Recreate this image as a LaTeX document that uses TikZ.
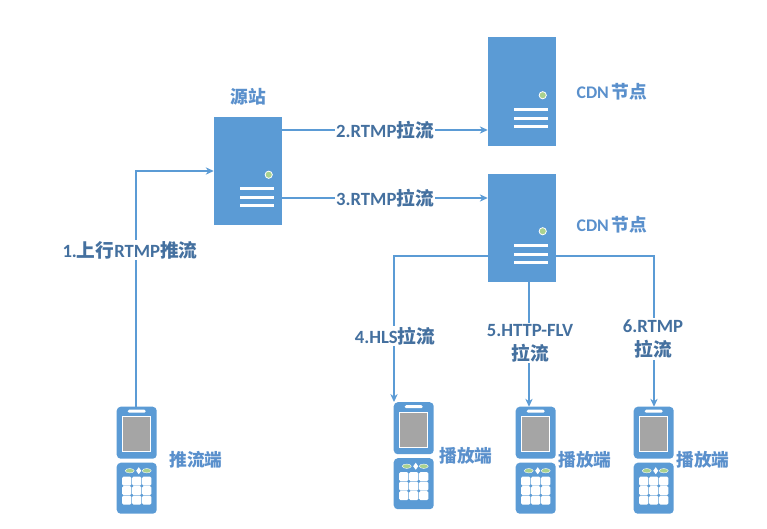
\documentclass[tikz,border=0pt]{standalone}
\usepackage{fontspec}
\setmainfont{Carlito}
\newfontfamily\cjk{Noto Sans CJK SC}
\usetikzlibrary{arrows.meta,positioning}
\definecolor{boxFill}{HTML}{5B9BD5}
\definecolor{screenFill}{HTML}{A5A5A5}
\definecolor{ledFill}{HTML}{A9D18E}
\definecolor{textMain}{HTML}{44709F}
\definecolor{textSoft}{HTML}{5A90CC}
\tikzset{
    srvParts/.pic={
        \fill[ledFill, draw=white, line width=0.6pt] (55,58) circle (3.6);
        \foreach \y in {72,81,89} {
            \fill[white] (26,\y-1.6) rectangle (60,\y+1.6);
        }
    },
    phoneParts/.pic={
        \fill[boxFill, rounded corners=3pt] (0,0) rectangle (40,52);
        \fill[boxFill, rounded corners=3pt] (0,56) rectangle (40,107);
        \fill[white, rounded corners=1pt] (11,3) rectangle (29,6);
        \fill[screenFill, draw=white, line width=0.7pt] (6,10) rectangle (34,45);
        \fill[ledFill, draw=white, line width=0.3pt] (13,64) ellipse (4.5 and 2.2);
        \fill[ledFill, draw=white, line width=0.3pt] (30,64) ellipse (4.5 and 2.2);
        \fill[white] (22,60.5) -- (24.5,64) -- (22,67.5) -- (19.5,64) -- cycle;
        \foreach \x in {5,15,25} {
            \foreach \y in {70,79.5,89} {
                \fill[white, rounded corners=1pt] (\x+0.4,\y) rectangle (\x+9.6,\y+8.8);
            }
        }
    }
}
\begin{document}
\begin{tikzpicture}[
    x=0.75pt, y=-0.75pt,
    font=\bfseries\fontsize{14}{18}\selectfont,
    srvNode/.style={
        rectangle, fill=boxFill, inner sep=0pt,
        minimum width=51pt, minimum height=81pt
    },
    phoneNode/.style={
        rectangle, inner sep=0pt,
        minimum width=30pt, minimum height=80.25pt
    },
    title/.style={font=\bfseries\fontsize{13.3}{16}\selectfont, text=textSoft, align=center, inner sep=0pt},
    stepLabel/.style={text=textMain, fill=white, align=center, inner sep=1pt},
    flow/.style={-{Stealth[length=6pt,width=5.5pt]}, line width=0.8pt, draw=boxFill}
]

% Servers on top, handsets along the bottom row
\node[srvNode] (Origin) at (248,171) {};
\node[srvNode] (CdnTop) at (522,91.5) {};
\node[srvNode] (CdnLow) at (522,227.5) {};
\pic at (Origin.north west) {srvParts};
\pic at (CdnTop.north west) {srvParts};
\pic at (CdnLow.north west) {srvParts};

\node[phoneNode] (Pusher) at (137,460.5) {};
\node[phoneNode] (PlayerA) at (414,456) {};
\node[phoneNode] (PlayerB) at (536,460.5) {};
\node[phoneNode] (PlayerC) at (654,460.5) {};
\pic at (Pusher.north west) {phoneParts};
\pic at (PlayerA.north west) {phoneParts};
\pic at (PlayerB.north west) {phoneParts};
\pic at (PlayerC.north west) {phoneParts};

\node[title] (OriginTitle) at (248,97) {\cjk 源站};
\node[title] (CdnTopTitle) at (612,92) {CDN\,{\cjk 节点}};
\node[title] (CdnLowTitle) at (612,225) {CDN\,{\cjk 节点}};
\node[title] (PusherTitle) at (196,460) {\cjk 推流端};
\node[title] (PlayerATitle) at (466,456) {\cjk 播放端};
\node[title] (PlayerBTitle) at (585,460) {\cjk 播放端};
\node[title] (PlayerCTitle) at (703,460) {\cjk 播放端};

\coordinate (TopIn) at (CdnTop.west |- 0,130);
\coordinate (LowIn) at (CdnLow.west |- 0,198);
\coordinate (LeftOut) at (CdnLow.west |- 0,256);
\coordinate (RightOut) at (CdnLow.east |- 0,256);
\coordinate (MidOut) at (529,0 |- CdnLow.south);

\draw[flow] (Pusher.north -| 136,0) |- (Origin.west);
\draw[flow] (Origin.east |- TopIn) -- (TopIn);
\draw[flow] (Origin.east |- LowIn) -- (LowIn);
\draw[flow] (LeftOut) -| (394,402);
\draw[flow] (MidOut) -- (MidOut |- PlayerB.north);
\draw[flow] (RightOut) -| (PlayerC.north);

\node[stepLabel] (PushLabel) at (130,250) {1.{\cjk 上行}RTMP{\cjk 推流}};
\node[stepLabel] (PullTop) at (385,130) {2.RTMP{\cjk 拉流}};
\node[stepLabel] (PullLow) at (385,198) {3.RTMP{\cjk 拉流}};
\node[stepLabel] (PullHls) at (395,336) {4.HLS{\cjk 拉流}};
\node[stepLabel] (PullFlv) at (530,343) {5.HTTP-FLV\\{\cjk 拉流}};
\node[stepLabel] (PullRtmp) at (653,339) {6.RTMP\\{\cjk 拉流}};

\useasboundingbox (0,0) rectangle (767,528);
\end{tikzpicture}
\end{document}
